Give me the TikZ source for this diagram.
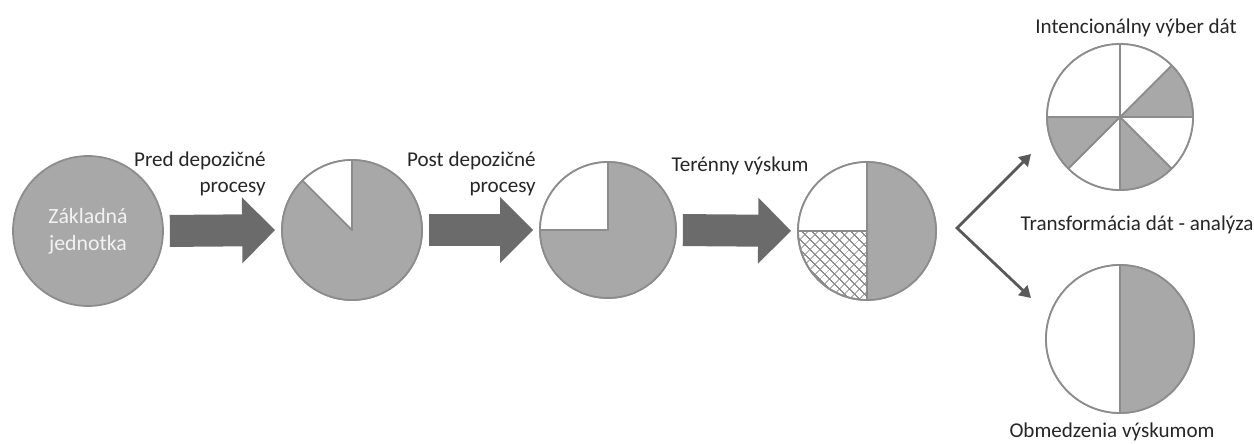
\documentclass[tikz,border=0pt]{standalone}
\usepackage{fontspec}
\setmainfont{Carlito}
\usepackage{xcolor}
\definecolor{g1}{HTML}{A8A8A8}
\definecolor{g2}{HTML}{8C8C8C}
\definecolor{g3}{HTML}{6B6B6B}
\definecolor{g4}{HTML}{595959}
\definecolor{t1}{HTML}{262626}
\usetikzlibrary{arrows.meta,patterns.meta}

\tikzset{
  pie/.style={circle,draw=g2,line width=1pt,fill=white,inner sep=0pt},
  slice/.style={draw=g2,line width=1pt,line join=round},
  bigarrow/.style={g3,line width=0.64cm,shorten <=0.12cm,shorten >=0.12cm,
    -{Triangle[length=0.66cm,width=1.28cm]}},
  branch/.style={g4,line width=1.6pt,
    {Triangle[length=6.5pt,width=7.5pt]}-{Triangle[length=6.5pt,width=7.5pt]}},
  lbl/.style={text=t1,font=\fontsize{12}{14.6}\selectfont,inner sep=0pt}
}
% slice: node, start angle, end angle, radius, fill
\newcommand{\pieslice}[5]{%
  \filldraw[slice,fill=#5] (#1.center) -- ++(#2:#4)
    arc[start angle=#2,end angle=#3,radius=#4] -- cycle;}

\begin{document}
\begin{tikzpicture}[x=0.02cm,y=-0.02cm]
  \useasboundingbox (0,0) rectangle (1254,443);

  \node[pie,fill=g1,text=white!95!black,align=center,minimum size=3cm,
    font=\fontsize{12.4}{15.3}\selectfont] (unit) at (88,231) {Základná\\jednotka};

  \node[pie,minimum size=2.8cm] (pre) at (352,230) {};
  \pieslice{pre}{135}{450}{1.4cm}{g1}
  \pieslice{pre}{90}{135}{1.4cm}{white}

  \node[pie,minimum size=2.72cm] (post) at (608,230) {};
  \pieslice{post}{180}{450}{1.36cm}{g1}
  \pieslice{post}{90}{180}{1.36cm}{white}

  \node[pie,minimum size=2.76cm] (field) at (867,231) {};
  \pieslice{field}{-90}{90}{1.38cm}{g1}
  \pieslice{field}{90}{180}{1.38cm}{white}
  \filldraw[slice,pattern={Hatch[angle=45,distance=4pt,line width=0.5pt]},pattern color=g2]
    (field.center) -- ++(180:1.38cm) arc[start angle=180,end angle=270,radius=1.38cm] -- cycle;

  % results
  \node[pie,minimum size=2.92cm] (intent) at (1120,117) {};
  \pieslice{intent}{0}{45}{1.46cm}{g1}
  \pieslice{intent}{45}{90}{1.46cm}{white}
  \pieslice{intent}{90}{180}{1.46cm}{white}
  \pieslice{intent}{180}{225}{1.46cm}{g1}
  \pieslice{intent}{225}{270}{1.46cm}{white}
  \pieslice{intent}{270}{315}{1.46cm}{g1}
  \pieslice{intent}{315}{360}{1.46cm}{white}

  \node[pie,minimum size=2.96cm] (limit) at (1120,339) {};
  \pieslice{limit}{-90}{90}{1.48cm}{g1}
  \pieslice{limit}{90}{270}{1.48cm}{white}

  \draw[bigarrow] (unit.east) -- (pre.west);
  \draw[bigarrow] (pre.east) -- (post.west);
  \draw[bigarrow] (post.east) -- (field.west);

  \coordinate (fork) at (957,228);
  \coordinate (uptip) at (1031,154);
  \coordinate (downtip) at (1031,298);
  \draw[branch] (uptip) -- (fork) -- (downtip);

  \node[lbl,align=right,anchor=north east] (lpre) at (266,152) {Pred depozičné\\procesy};
  \node[lbl,align=right,anchor=north east] (lpost) at (536,152) {Post depozičné\\procesy};
  \node[lbl,anchor=base] (lfield) at (740,171) {Terénny výskum};
  \node[lbl,anchor=base] (ltrans) at (1137,230) {Transformácia dát - analýza};
  \node[lbl,anchor=base] (lintent) at (1136,33) {Intencionálny výber dát};
  \node[lbl,anchor=base] (llimit) at (1112,437) {Obmedzenia výskumom};
\end{tikzpicture}
\end{document}
